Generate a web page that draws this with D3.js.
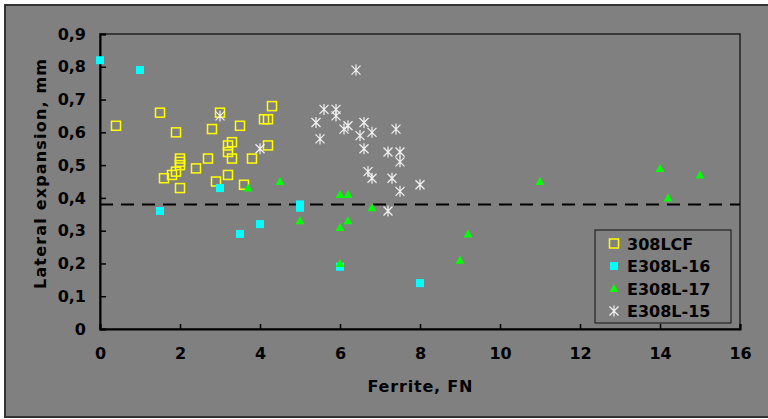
<!DOCTYPE html>
<html>
<head>
<meta charset="utf-8">
<script src="https://cdn.jsdelivr.net/npm/d3@7"></script>
<style>
  body { margin: 0; background: #fff; }
  svg { display: block; font-family: "DejaVu Sans", Verdana, sans-serif; font-weight: bold; }
</style>
</head>
<body>
<svg id="chart"></svg>
<script>
// DATA
const seriesNames = ["308LCF", "E308L-16", "E308L-17", "E308L-15"];
const lcf = [
  [0.4, 0.62], [1.5, 0.66], [1.6, 0.46], [1.8, 0.47], [1.9, 0.48], [1.9, 0.60],
  [2.0, 0.50], [2.0, 0.51], [2.0, 0.52], [2.0, 0.43], [2.4, 0.49], [2.7, 0.52],
  [2.8, 0.61], [2.9, 0.45], [3.0, 0.66], [3.2, 0.47], [3.2, 0.54], [3.2, 0.56],
  [3.3, 0.57], [3.3, 0.52], [3.5, 0.62], [3.6, 0.44], [3.8, 0.52], [4.1, 0.64],
  [4.2, 0.64], [4.2, 0.56], [4.3, 0.68]
];
const e16 = [
  [0, 0.82], [1.0, 0.79], [1.5, 0.36], [3.0, 0.43], [3.5, 0.29], [4.0, 0.32],
  [5.0, 0.38], [5.0, 0.37], [6.0, 0.19], [8.0, 0.14]
];
const e17 = [
  [3.7, 0.43], [4.5, 0.45], [5.0, 0.33], [6.0, 0.41], [6.2, 0.41], [6.0, 0.31],
  [6.2, 0.33], [6.0, 0.20], [6.8, 0.37], [9.0, 0.21], [9.2, 0.29], [11.0, 0.45],
  [14.0, 0.49], [14.2, 0.40], [15.0, 0.47]
];
const e15 = [
  [3.0, 0.65], [4.0, 0.55], [5.4, 0.63], [5.5, 0.58], [5.6, 0.67], [5.9, 0.67],
  [5.9, 0.65], [6.1, 0.61], [6.2, 0.62], [6.4, 0.79], [6.5, 0.59], [6.6, 0.63],
  [6.6, 0.55], [6.7, 0.48], [6.8, 0.46], [6.8, 0.60], [7.2, 0.54], [7.2, 0.36],
  [7.3, 0.46], [7.4, 0.61], [7.5, 0.54], [7.5, 0.51], [7.5, 0.42], [8.0, 0.44]
];
const xTicks = [0, 2, 4, 6, 8, 10, 12, 14, 16];
const yTicks = [0, 0.1, 0.2, 0.3, 0.4, 0.5, 0.6, 0.7, 0.8, 0.9];
const limitValue = 0.38;

const svgWidth = 768, svgHeight = 419;
const margin = { top: 34, right: 28, bottom: 90, left: 100 };
const width = svgWidth - margin.left - margin.right;
const height = svgHeight - margin.top - margin.bottom;

const svg = d3.select("#chart").attr("width", svgWidth).attr("height", svgHeight);

// OUTER FRAME
svg.append("rect")
  .attr("x", 5).attr("y", 5)
  .attr("width", 780).attr("height", 412)
  .attr("fill", "#808080")
  .attr("stroke", "#333").attr("stroke-width", 2);

const g = svg.append("g").attr("transform", "translate(" + margin.left + "," + margin.top + ")");

const x = d3.scaleLinear().domain([0, 16]).range([0, width]);
const y = d3.scaleLinear().domain([0, 0.9]).range([height, 0]);

// PLOT AREA BORDER
g.append("rect")
  .attr("width", width).attr("height", height)
  .attr("fill", "#808080")
  .attr("stroke", "#222").attr("stroke-width", 1.5);

// AXES
const fmt = d => d === 0 ? "0" : d3.format(".1f")(d).replace(".", ",");
const yAxis = g.append("g")
  .call(d3.axisLeft(y).tickValues(yTicks).tickSize(-6).tickPadding(20).tickFormat(fmt));
const xAxis = g.append("g")
  .attr("transform", "translate(0," + height + ")")
  .call(d3.axisBottom(x).tickValues(xTicks).tickSize(-5).tickPadding(19));
[xAxis, yAxis].forEach(a => {
  a.select(".domain").attr("stroke", "#000").attr("stroke-width", 2);
  a.selectAll(".tick line").attr("stroke", "#000").attr("stroke-width", 1.5);
  a.selectAll("text")
    .attr("fill", "#000")
    .style("font-size", "16px")
    .style("font-family", "'DejaVu Sans', Verdana, sans-serif")
    .style("font-weight", "bold");
});
yAxis.selectAll(".tick text").attr("x", -14);

// AXIS TITLES
svg.append("text")
  .attr("transform", "translate(46,174) rotate(-90)")
  .attr("text-anchor", "middle")
  .attr("textLength", 230)
  .attr("lengthAdjust", "spacing")
  .style("font-size", "16px")
  .text("Lateral expansion, mm");
svg.append("text")
  .attr("x", margin.left + width / 2)
  .attr("y", 392)
  .attr("text-anchor", "middle")
  .attr("textLength", 105)
  .attr("lengthAdjust", "spacing")
  .style("font-size", "16px")
  .text("Ferrite, FN");

// DASHED LIMIT LINE
g.append("line")
  .attr("x1", 0).attr("x2", width)
  .attr("y1", y(limitValue)).attr("y2", y(limitValue))
  .attr("stroke", "#000").attr("stroke-width", 2)
  .attr("stroke-dasharray", "13,8");

// MARKER DRAWERS
function drawMarker(sel, type) {
  if (type === 0) {
    sel.append("rect").attr("x", -4.5).attr("y", -4.5).attr("width", 9).attr("height", 9)
      .attr("fill", "none").attr("stroke", "#ffff00").attr("stroke-width", 1.5);
  } else if (type === 1) {
    sel.append("rect").attr("x", -4).attr("y", -4).attr("width", 8).attr("height", 8)
      .attr("fill", "#00ffff");
  } else if (type === 2) {
    sel.append("path").attr("d", "M0,-4.5L4.5,3.5L-4.5,3.5Z").attr("fill", "#00ff00");
  } else {
    sel.append("path").attr("d", "M-4.5,-4.5L4.5,4.5M-4.5,4.5L4.5,-4.5M0,-5.5L0,5.5")
      .attr("stroke", "#f2f2f2").attr("stroke-width", 1.2).attr("fill", "none");
  }
}

[lcf, e16, e17, e15].forEach((data, k) => {
  g.append("g").selectAll("g")
    .data(data)
    .enter()
    .append("g")
    .attr("transform", d => "translate(" + x(d[0]) + "," + y(d[1]) + ")")
    .each(function() { drawMarker(d3.select(this), k); });
});

// LEGEND
const legend = svg.append("g").attr("transform", "translate(595,230)");
legend.append("rect")
  .attr("width", 136).attr("height", 93)
  .attr("fill", "#808080").attr("stroke", "#111").attr("stroke-width", 1);
seriesNames.forEach((name, k) => {
  const row = legend.append("g").attr("transform", "translate(19," + (13.5 + k * 22.5) + ")");
  drawMarker(row, k);
  row.append("text")
    .attr("x", 13).attr("y", 6)
    .style("font-size", "16px")
    .attr("fill", "#000")
    .text(name);
});
</script>
</body>
</html>
